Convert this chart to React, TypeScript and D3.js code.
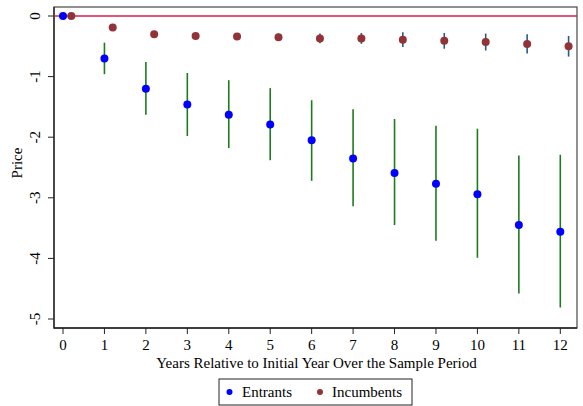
import React from "react";
import * as d3 from "d3";

const years = [0, 1, 2, 3, 4, 5, 6, 7, 8, 9, 10, 11, 12];
const entrantEst = [0, -0.7, -1.2, -1.46, -1.63, -1.79, -2.05, -2.35, -2.59, -2.77, -2.94, -3.45, -3.56];
const entrantLo = [0, -0.96, -1.63, -1.98, -2.18, -2.38, -2.72, -3.14, -3.45, -3.71, -3.99, -4.58, -4.81];
const entrantHi = [0, -0.44, -0.76, -0.94, -1.06, -1.19, -1.39, -1.54, -1.7, -1.81, -1.86, -2.3, -2.29];
const incumbentEst = [0, -0.19, -0.3, -0.33, -0.34, -0.35, -0.37, -0.37, -0.39, -0.41, -0.43, -0.46, -0.5];
const incumbentLo = [0, -0.21, -0.33, -0.37, -0.39, -0.41, -0.45, -0.46, -0.51, -0.54, -0.57, -0.62, -0.67];
const incumbentHi = [0, -0.17, -0.27, -0.29, -0.29, -0.29, -0.29, -0.28, -0.27, -0.28, -0.29, -0.3, -0.33];
const yTicks = [0, -1, -2, -3, -4, -5];
const xTitle = "Years Relative to Initial Year Over the Sample Period";
const yTitle = "Price";
const legendLabels = ["Entrants", "Incumbents"];

const FONT = "'Liberation Serif', 'Times New Roman', serif";

export default function App() {
  const W = 583, H = 406;
  const left = 54, right = 577, top = 7, bottom = 328;
  const x = d3.scaleLinear().domain([0, 12]).range([63, 560.3]);
  const y = d3.scaleLinear().domain([0, -5]).range([16, 319]);
  const off = 0.2;

  return (
    <svg width={W} height={H} style={{ position: "absolute", left: 0, top: 0 }} fontFamily={FONT}>
      <rect x={0} y={0} width={W} height={H} fill="#fff" />
      {/* plot frame */}
      <rect x={left} y={top} width={right - left} height={bottom - top} fill="none" stroke="#555" strokeWidth={1.3} />
      <line x1={left} x2={left} y1={top} y2={bottom + 0.6} stroke="#222" strokeWidth={1.3} />
      <line x1={left} x2={right} y1={bottom} y2={bottom} stroke="#222" strokeWidth={1.3} />
      {/* zero line */}
      <line x1={left} x2={right} y1={y(0)} y2={y(0)} stroke="#d81e4e" strokeWidth={1.3} />
      {/* y axis */}
      {yTicks.map((t) => (
        <g key={"y" + t}>
          <line x1={left - 6} x2={left} y1={y(t)} y2={y(t)} stroke="#222" strokeWidth={1} />
          <text
            transform={`translate(${40},${y(t)}) rotate(-90)`}
            textAnchor="middle"
            fontSize={15}
            fill="#000"
          >
            {t}
          </text>
        </g>
      ))}
      <text transform={`translate(22,163) rotate(-90)`} textAnchor="middle" fontSize={15} fill="#000">
        {yTitle}
      </text>
      {/* x axis */}
      {years.map((t) => (
        <g key={"x" + t}>
          <line x1={x(t)} x2={x(t)} y1={bottom} y2={bottom + 6} stroke="#222" strokeWidth={1} />
          <text x={x(t)} y={349.5} textAnchor="middle" fontSize={15} fill="#000">
            {t}
          </text>
        </g>
      ))}
      <text x={(left + right) / 2 + 1} y={368} textAnchor="middle" fontSize={15} fill="#000">
        {xTitle}
      </text>
      {/* CIs */}
      {years.map((t, i) =>
        i === 0 ? null : (
          <line key={"ec" + t} x1={x(t)} x2={x(t)} y1={y(entrantLo[i])} y2={y(entrantHi[i])} stroke="#1e7a1e" strokeWidth={1.6} />
        )
      )}
      {years.map((t, i) =>
        i === 0 ? null : (
          <line key={"ic" + t} x1={x(t + off)} x2={x(t + off)} y1={y(incumbentLo[i])} y2={y(incumbentHi[i])} stroke="#2a5a8a" strokeWidth={1.6} />
        )
      )}
      {/* points */}
      {years.map((t, i) => (
        <circle key={"ep" + t} cx={x(t)} cy={y(entrantEst[i])} r={4} fill="#0000ff" />
      ))}
      {years.map((t, i) => (
        <circle key={"ip" + t} cx={x(t + off)} cy={y(incumbentEst[i])} r={4} fill="#923337" />
      ))}
      {/* legend */}
      <rect x={219} y={379} width={193} height={26} fill="#fff" stroke="#222" strokeWidth={1} />
      <circle cx={229.5} cy={392} r={3} fill="#0000ff" />
      <text x={242} y={397} fontSize={15} fill="#000">{legendLabels[0]}</text>
      <circle cx={320} cy={392} r={3} fill="#923337" />
      <text x={332} y={397} fontSize={15} fill="#000">{legendLabels[1]}</text>
    </svg>
  );
}
